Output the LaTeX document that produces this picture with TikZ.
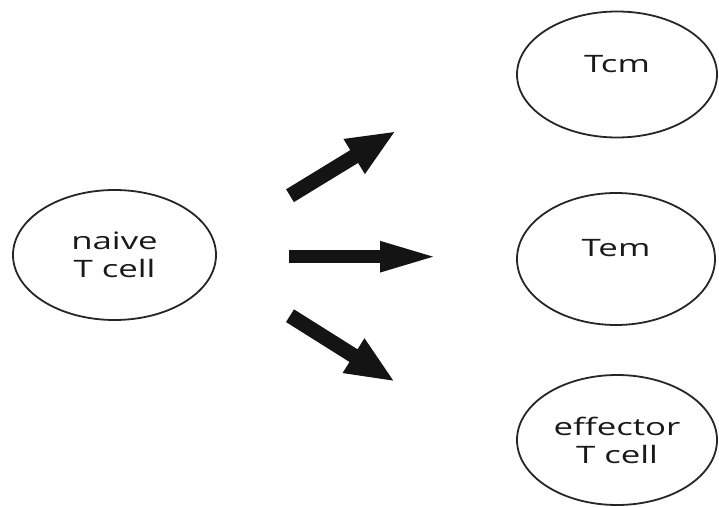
\documentclass[tikz,border=0pt]{standalone}
\usepackage{fontspec}
\setmainfont{Open Sans}
% labels are set wide, like the stretched cells
\newfontfamily\cellfont[FakeStretch=1.45]{Open Sans}
\usetikzlibrary{shapes.geometric,arrows.meta}
\begin{document}
\begin{tikzpicture}[x=1pt,y=1pt,
  cell/.style={ellipse, draw=black!85, line width=1.8pt,
    minimum width=200pt, minimum height=130pt, inner sep=0pt,
    align=center, text=black!90,
    font=\cellfont\fontsize{24}{28}\selectfont},
  oneline/.style={text depth=22pt},
  diagarrow/.style={draw=black!92, line width=15pt,
    -{Triangle[length=49pt,width=37pt]}},
  flatarrow/.style={draw=black!92, line width=13pt,
    -{Triangle[length=60pt,width=27pt]}},
]
\useasboundingbox (0,0) rectangle (719,506);

% cells
\node[cell, minimum width=203pt] (naive) at (114.5,251) {naive\\T cell};
\node[cell, oneline, minimum height=126pt] (tcm) at (617,431.5) {Tcm};
\node[cell, oneline, minimum width=198pt, minimum height=132pt] (tem) at (616,247) {Tem};
\node[cell] (eff) at (617,66) {effector\\T cell};

% arrow ends
\coordinate (upS) at (290,310.3);
\coordinate (upE) at (396,375);
\coordinate (midS) at (289,249.3);
\coordinate (midE) at (440,249.3);
\coordinate (lowS) at (290,190.3);
\coordinate (lowE) at (395,124.3);

% differentiation arrows
\draw[diagarrow] (upS) -- (upE);
\draw[flatarrow] (midS) -- (midE);
\draw[diagarrow] (lowS) -- (lowE);
\end{tikzpicture}
\end{document}
